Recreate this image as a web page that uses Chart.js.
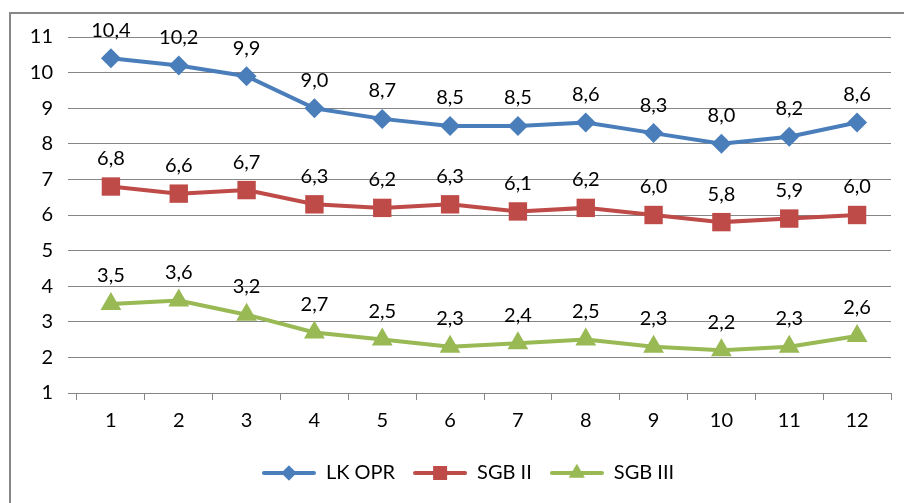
<!DOCTYPE html>
<html>
<head>
<meta charset="utf-8">
<script src="https://cdn.jsdelivr.net/npm/chart.js@4/dist/chart.umd.min.js"></script>
<style>
  html, body { margin: 0; padding: 0; background: #fff; }
  #wrap { width: 904px; height: 503px; }
</style>
</head>
<body>
<div id="wrap"><canvas id="lineChart" width="904" height="503"></canvas></div>
<script>
  const categories = ["1", "2", "3", "4", "5", "6", "7", "8", "9", "10", "11", "12"];
  const seriesNames = ["LK OPR", "SGB II", "SGB III"];
  const lkOpr = [10.4, 10.2, 9.9, 9.0, 8.7, 8.5, 8.5, 8.6, 8.3, 8.0, 8.2, 8.6];
  const sgbII = [6.8, 6.6, 6.7, 6.3, 6.2, 6.3, 6.1, 6.2, 6.0, 5.8, 5.9, 6.0];
  const sgbIII = [3.5, 3.6, 3.2, 2.7, 2.5, 2.3, 2.4, 2.5, 2.3, 2.2, 2.3, 2.6];
  const yTicks = [1, 2, 3, 4, 5, 6, 7, 8, 9, 10, 11];

  const colors = ["#4A7EBB", "#BE4B48", "#98B954"];
  const markers = ["rectRot", "rect", "triangle"];
  const markerSizes = [10, 13, 12];
  const fontFamily = "Lato, 'Open Sans', sans-serif";

  // legend icon: line with the marker in the middle
  const legendIcon = (color, style, radius) => {
    const c = document.createElement("canvas");
    c.width = 54;
    c.height = 22;
    const ctx = c.getContext("2d");
    ctx.strokeStyle = color;
    ctx.lineWidth = 4;
    ctx.lineCap = "round";
    ctx.beginPath();
    ctx.moveTo(2, 11);
    ctx.lineTo(52, 11);
    ctx.stroke();
    ctx.fillStyle = color;
    Chart.helpers.drawPoint(ctx, { pointStyle: style, rotation: 0, radius: radius * 0.75, borderWidth: 0 }, 27, 11);
    ctx.fill();
    return c;
  };

  const frame = {
    id: "frame",
    beforeDraw: function (chart) {
      const ctx = chart.ctx;
      ctx.save();
      ctx.strokeStyle = "#878787";
      ctx.lineWidth = 2;
      ctx.strokeRect(10, 13, 910, 520);
      ctx.restore();
    },
  };

  // legend sits a little right of centre in the original
  const legendShift = {
    id: "legendShift",
    afterLayout: function (chart) {
      if (chart.legend) {
        chart.legend.left += 22;
        chart.legend.right += 22;
      }
    },
  };

  const valueLabels = {
    id: "valueLabels",
    afterDatasetsDraw: function (chart) {
      const ctx = chart.ctx;
      ctx.save();
      ctx.font = "20px " + fontFamily;
      ctx.fillStyle = "#000";
      ctx.textAlign = "center";
      ctx.textBaseline = "middle";
      chart.data.datasets.forEach((ds, i) => {
        chart.getDatasetMeta(i).data.forEach((pt, j) => {
          const txt = ds.data[j].toFixed(1).replace(".", ",");
          ctx.fillText(txt, pt.x, pt.y - 28);
        });
      });
      ctx.restore();
    },
  };

  const seriesData = [lkOpr, sgbII, sgbIII];

  new Chart(document.getElementById("lineChart"), {
    type: "line",
    data: {
      labels: categories,
      datasets: seriesData.map((d, i) => ({
        label: seriesNames[i],
        data: d,
        borderColor: colors[i],
        backgroundColor: colors[i],
        borderWidth: 4,
        pointStyle: markers[i],
        pointRadius: markerSizes[i],
        pointBorderWidth: 0,
        pointBackgroundColor: colors[i],
        tension: 0,
      })),
    },
    options: {
      responsive: false,
      animation: false,
      layout: { padding: { left: 0, right: 12, top: 37, bottom: 10 } },
      plugins: {
        tooltip: { enabled: false },
        legend: {
          position: "bottom",
          labels: {
            usePointStyle: true,
            pointStyleWidth: 54,
            padding: 18,
            color: "#000",
            font: { family: fontFamily, size: 20 },
            generateLabels: function (chart) {
              return chart.data.datasets.map((ds, i) => ({
                text: ds.label,
                pointStyle: legendIcon(colors[i], markers[i], markerSizes[i]),
                fillStyle: colors[i],
                strokeStyle: colors[i],
                lineWidth: 0,
                fontColor: "#000",
                datasetIndex: i,
              }));
            },
          },
        },
      },
      scales: {
        x: {
          offset: true,
          grid: {
            offset: true,
            drawOnChartArea: false,
            drawTicks: true,
            tickLength: 7,
            color: "#868686",
          },
          border: { display: true, color: "#868686", width: 1 },
          ticks: {
            color: "#000",
            padding: 9,
            maxRotation: 0,
            font: { family: fontFamily, size: 20 },
          },
          afterFit: function (scale) {
            scale.height = 52;
          },
        },
        y: {
          min: 1,
          max: 11,
          afterBuildTicks: function (scale) {
            scale.ticks = yTicks.map((v) => ({ value: v }));
          },
          grid: {
            color: "#868686",
            lineWidth: 1,
            drawTicks: true,
            tickLength: 9,
          },
          border: { display: false },
          ticks: {
            color: "#000",
            padding: 15,
            font: { family: fontFamily, size: 20 },
          },
          afterFit: function (scale) {
            scale.width = 77;
          },
        },
      },
    },
    plugins: [frame, legendShift, valueLabels],
  });
</script>
</body>
</html>
